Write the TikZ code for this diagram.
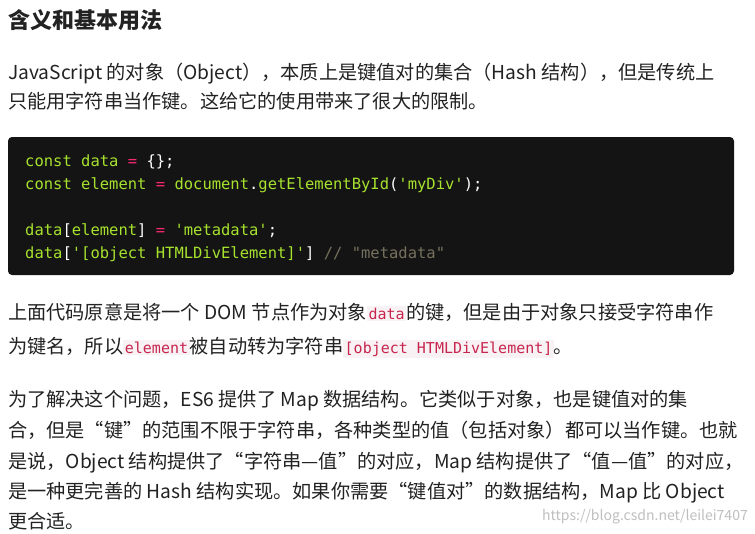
\documentclass[tikz,border=0pt]{standalone}
\usepackage{fontspec}
\setmainfont{Noto Sans CJK SC}
\setmonofont{DejaVu Sans Mono}
\definecolor{txt}{HTML}{222222}
\definecolor{cbg}{HTML}{141414}
\definecolor{cg}{HTML}{A6E22E}
\definecolor{cp}{HTML}{F92672}
\definecolor{cc}{HTML}{75715E}
\definecolor{icbg}{HTML}{F9F2F4}
\definecolor{icfg}{HTML}{C7254E}
\newcommand{\ic}[1]{{\setlength\fboxsep{1.5pt}\colorbox{icbg}{\ttfamily\fontsize{15}{15}\selectfont\color{icfg}#1}}}
\begin{document}
\begin{tikzpicture}[x=1pt,y=-1pt,
  tl/.style={anchor=base west,inner sep=0pt,text=txt,font=\fontsize{19.2}{19}\selectfont},
  cl/.style={anchor=base west,inner sep=0pt,text=cg,font=\ttfamily\fontsize{15.5}{15.5}\selectfont}]
\useasboundingbox[fill=white] (0,0) rectangle (755,533);
\node[tl,font=\bfseries\fontsize{22}{22}\selectfont] (t) at (8,28) {含义和基本用法};
\node[tl] (p1a) at (8,79) {JavaScript 的对象（Object），本质上是键值对的集合（Hash 结构），但是传统上};
\node[tl] (p1b) at (8,108) {只能用字符串当作键。这给它的使用带来了很大的限制。};
\fill[cbg] (8,137) [rounded corners=4pt] rectangle (734,275);
\node[cl] (c1) at (25,166) {const data \textcolor{cp}{=} \textcolor{white}{\{\};}};
\node[cl] (c2) at (25,189) {const element \textcolor{cp}{=} document\textcolor{white}{.}getElementById\textcolor{white}{(}'myDiv'\textcolor{white}{);}};
\node[cl] (c3) at (25,235) {data\textcolor{white}{[}element\textcolor{white}{]} \textcolor{cp}{=} 'metadata'\textcolor{white}{;}};
\node[cl] (c4) at (25,258) {data\textcolor{white}{[}'[object HTMLDivElement]'\textcolor{white}{]} \textcolor{cc}{// "metadata"}};
\node[tl] (p2a) at (8,319) {上面代码原意是将一个 DOM 节点作为对象\ic{data}的键，但是由于对象只接受字符串作};
\node[tl] (p2b) at (8,353) {为键名，所以\ic{element}被自动转为字符串\ic{[object HTMLDivElement]}。};
\node[tl] (p3a) at (8,406) {为了解决这个问题，ES6 提供了 Map 数据结构。它类似于对象，也是键值对的集};
\node[tl] (p3b) at (8,437) {合，但是“键”的范围不限于字符串，各种类型的值（包括对象）都可以当作键。也就};
\node[tl] (p3c) at (8,468) {是说，Object 结构提供了“字符串—值”的对应，Map 结构提供了“值—值”的对应，};
\node[tl] (p3d) at (8,498) {是一种更完善的 Hash 结构实现。如果你需要“键值对”的数据结构，Map 比 Object};
\node[tl] (p3e) at (8,528) {更合适。};
\node[anchor=base east,inner sep=0pt,text=black!25,font=\fontsize{14}{14}\selectfont] (wm) at (748,520) {https://blog.csdn.net/leilei7407};
\end{tikzpicture}
\end{document}
